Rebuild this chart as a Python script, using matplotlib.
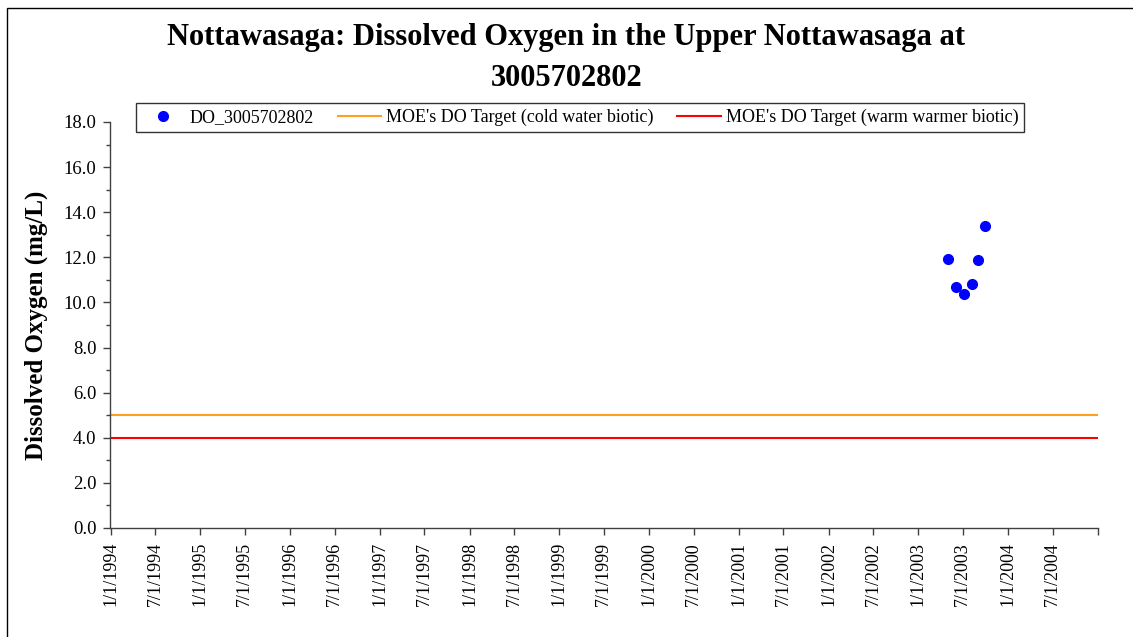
import matplotlib
matplotlib.use("Agg")
import matplotlib.pyplot as plt
from matplotlib.patches import Rectangle
from matplotlib.lines import Line2D
import datetime as dt

# ---- data ----
sample_dates = ["2003-05-01", "2003-06-02", "2003-07-05", "2003-08-06", "2003-08-31", "2003-09-28"]
do_values = [11.94, 10.67, 10.39, 10.82, 11.87, 13.37]
cold_target = 5.0
warm_target = 4.0
x_start = "1994-01-01"
x_end = "2005-01-01"
y_ticks = [0, 2, 4, 6, 8, 10, 12, 14, 16, 18]
series_names = ["DO_3005702802", "MOE's DO Target (cold water biotic)", "MOE's DO Target (warm warmer biotic)"]
title_lines = ["Nottawasaga: Dissolved Oxygen in the Upper Nottawasaga at", "3005702802"]
y_label = "Dissolved Oxygen (mg/L)"

plt.rcParams['font.family'] = ['Liberation Serif', 'DejaVu Serif']

def d(s):
    return dt.datetime.strptime(s, "%Y-%m-%d")

W, H = 1133, 637
fig = plt.figure(figsize=(W / 100, H / 100), dpi=100)
fig.patch.set_facecolor('white')

# outer chart frame
fig.patches.append(Rectangle((7 / W, -0.01), 1.05, 1 - 8 / H + 0.01, transform=fig.transFigure,
                             fill=False, edgecolor='#000000', linewidth=1.0))

ax = fig.add_axes([110.5 / W, 1 - 528 / H, (1098 - 110.5) / W, (528 - 122) / H])

xs, xe = d(x_start), d(x_end)
dates = [d(s) for s in sample_dates]

ax.plot([xs, xe], [cold_target, cold_target], color='#FFA020', linewidth=1.5, zorder=2)
ax.plot([xs, xe], [warm_target, warm_target], color='#FF0000', linewidth=1.5, zorder=2)
ax.plot(dates, do_values, linestyle='none', marker='o', markersize=7, color='#0000FF',
        markeredgecolor='#0000FF', zorder=3)

ax.set_xlim(xs, xe)
ax.set_ylim(0, 18)

# x ticks every 6 months
ticks = []
for yr in range(1994, 2005):
    ticks.append(dt.datetime(yr, 1, 1))
    ticks.append(dt.datetime(yr, 7, 1))
ticks.append(dt.datetime(2005, 1, 1))
labels = [f"{t.month}/{t.day}/{t.year}" for t in ticks[:-1]] + [""]
ax.set_xticks(ticks)
ax.set_xticklabels(labels, rotation=90, fontsize=13)

ax.set_yticks(y_ticks)
ax.set_yticklabels([f"{v:.1f}" for v in y_ticks], fontsize=13.5)
ax.set_yticks([v + 1 for v in y_ticks[:-1]], minor=True)

for s in ['top', 'right']:
    ax.spines[s].set_visible(False)
for s in ['left', 'bottom']:
    ax.spines[s].set_color('#404040')
    ax.spines[s].set_linewidth(1.0)
ax.tick_params(axis='both', which='major', direction='out', length=5, width=1, color='#404040', pad=5)
ax.tick_params(axis='y', which='minor', direction='out', length=3, width=1, color='#404040')

fig.text(36 / W, 1 - 325 / H, y_label, rotation=90, fontsize=18, fontweight='bold',
         ha='center', va='center')

fig.text(0.5, 1 - 38 / H, title_lines[0], fontsize=22, fontweight='bold', ha='center', va='center')
fig.text(0.5, 1 - 78 / H, title_lines[1], fontsize=22, fontweight='bold', ha='center', va='center')

handles = [
    Line2D([], [], linestyle='none', marker='o', markersize=7, color='#0000FF'),
    Line2D([], [], color='#FFA020', linewidth=1.5),
    Line2D([], [], color='#FF0000', linewidth=1.5),
]
leg = fig.legend(handles, series_names, loc='center', bbox_to_anchor=(580 / W, 1 - 117.5 / H),
                 ncol=3, fontsize=13, frameon=True, fancybox=False, edgecolor='#000000',
                 handlelength=2.4, handletextpad=0.3, columnspacing=1.3, borderpad=0.3,
                 borderaxespad=0)
leg.get_frame().set_linewidth(1.0)

fig.savefig("out.png", dpi=100, facecolor='white')
